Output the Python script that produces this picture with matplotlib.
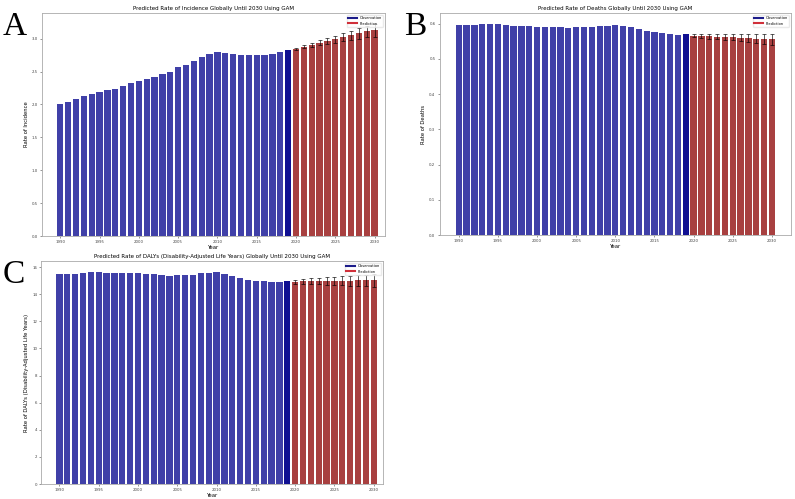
import numpy as np
import matplotlib
matplotlib.use('Agg')
import matplotlib.pyplot as plt
from matplotlib.lines import Line2D

# Years
years_obs = list(range(1990, 2020))
years_pred = list(range(2020, 2031))

# Incidence (A)
inc_obs = [2.005, 2.04, 2.076, 2.127, 2.16, 2.19, 2.22, 2.24, 2.28, 2.32,
           2.355, 2.386, 2.42, 2.47, 2.50, 2.57, 2.60, 2.655, 2.72, 2.77,
           2.80, 2.79, 2.77, 2.76, 2.75, 2.755, 2.755, 2.765, 2.80, 2.83]
inc_pred = [2.85, 2.88, 2.91, 2.94, 2.96, 2.99, 3.02, 3.05, 3.08, 3.11, 3.13]
inc_err = [0.015, 0.02, 0.03, 0.035, 0.045, 0.05, 0.06, 0.07, 0.08, 0.09, 0.10]

# Deaths (B)
death_obs = [0.597, 0.5955, 0.596, 0.599, 0.600, 0.598, 0.5955, 0.5935, 0.593, 0.592,
             0.591, 0.590, 0.591, 0.590, 0.587, 0.590, 0.590, 0.590, 0.594, 0.5935,
             0.5955, 0.593, 0.589, 0.584, 0.5785, 0.576, 0.573, 0.569, 0.568, 0.569]
death_pred = [0.566, 0.5645, 0.5635, 0.5625, 0.5615, 0.561, 0.560, 0.559, 0.557, 0.556, 0.555]
death_err = [0.003, 0.005, 0.006, 0.007, 0.008, 0.009, 0.010, 0.011, 0.013, 0.014, 0.015]

# DALYs (C)
daly_obs = [15.49, 15.47, 15.49, 15.59, 15.67, 15.64, 15.57, 15.54, 15.54, 15.57,
            15.57, 15.49, 15.49, 15.44, 15.34, 15.44, 15.44, 15.44, 15.57, 15.54,
            15.62, 15.49, 15.34, 15.22, 15.05, 15.00, 14.95, 14.88, 14.90, 14.95]
daly_pred = [14.93, 14.95, 14.97, 14.97, 14.97, 15.00, 15.00, 15.00, 15.02, 15.02, 15.02]
daly_err = [0.15, 0.18, 0.21, 0.24, 0.27, 0.30, 0.33, 0.36, 0.40, 0.43, 0.47]

panels = [
    ('A', [0.053, 0.527, 0.431, 0.447], (1987.7, 2031.3), 0.003,
     'Predicted Rate of Incidence Globally Until 2030 Using GAM', 'Rate of Incidence',
     inc_obs, inc_pred, inc_err),
    ('B', [0.553, 0.529, 0.442, 0.445], None, 0.508,
     'Predicted Rate of Deaths Globally Until 2030 Using GAM', 'Rate of Deaths',
     death_obs, death_pred, death_err),
    ('C', [0.052, 0.030, 0.430, 0.447], (1987.7, 2031.2), 0.003,
     'Predicted Rate of DALYs (Disability-Adjusted Life Years) Globally Until 2030 Using GAM',
     'Rate of DALYs (Disability-Adjusted Life Years)',
     daly_obs, daly_pred, daly_err),
]

fig = plt.figure(figsize=(7.95, 4.99), dpi=100)

for letter, rect, xlim, letter_x, title, ylabel, obs, pred, err in panels:
    ax = fig.add_axes(rect)
    ax.bar(years_obs, obs, color='darkblue', alpha=0.75)
    # last observed year drawn again, as in the original
    ax.bar(years_obs[-1], obs[-1], color='darkblue', alpha=0.75)
    ax.bar(years_pred, pred, yerr=err, color='darkred', alpha=0.75,
           error_kw=dict(ecolor='black', elinewidth=0.6, capsize=1.5, capthick=0.6, alpha=0.75))
    if xlim is not None:
        ax.set_xlim(*xlim)
    ax.set_xticks(range(1990, 2031, 5))
    ax.set_title(title, fontsize=4.0, pad=2)
    ax.set_xlabel('Year', fontsize=3.8, labelpad=0.5)
    ax.set_ylabel(ylabel, fontsize=3.8, labelpad=2)
    ax.tick_params(labelsize=2.8, length=1.5, width=0.4, pad=1.5, colors='#444444')
    for sp in ax.spines.values():
        sp.set_color('#aaaaaa')
        sp.set_linewidth(0.6)
    handles = [Line2D([0], [0], color='#1c1c8a', lw=1.5),
               Line2D([0], [0], color='#d0303a', lw=1.5)]
    ax.legend(handles, ['Observation', 'Prediction'], loc='upper right',
              fontsize=2.6, handlelength=2.5, borderpad=0.3, frameon=True,
              edgecolor='#e5e5e5', fancybox=True)
    fig.text(letter_x, rect[1] + rect[3] + 0.002, letter,
             family='Liberation Serif', fontsize=24, ha='left', va='top')

fig.savefig('out.png', dpi=100)
